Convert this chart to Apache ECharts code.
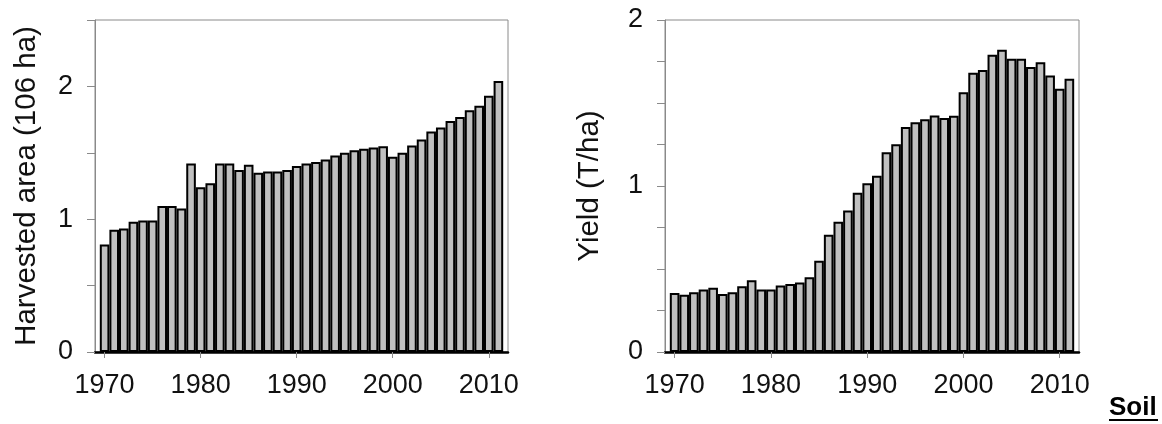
<!DOCTYPE html>
<html>
<head>
<meta charset="utf-8">
<script src="https://cdn.jsdelivr.net/npm/echarts@6/dist/echarts.min.js"></script>
<style>
html,body{margin:0;padding:0;background:#fff;}
#chart{width:1162px;height:424px;}
</style>
</head>
<body>
<div id="chart"></div>
<script>
const years = [1970,1971,1972,1973,1974,1975,1976,1977,1978,1979,
  1980,1981,1982,1983,1984,1985,1986,1987,1988,1989,
  1990,1991,1992,1993,1994,1995,1996,1997,1998,1999,
  2000,2001,2002,2003,2004,2005,2006,2007,2008,2009,
  2010,2011];
const harvestedArea = [0.81,0.92,0.93,0.98,0.99,0.99,1.10,1.10,1.08,1.42,
  1.24,1.27,1.42,1.42,1.37,1.41,1.35,1.36,1.36,1.37,
  1.40,1.42,1.43,1.45,1.48,1.50,1.52,1.53,1.54,1.55,
  1.47,1.50,1.555,1.60,1.66,1.69,1.74,1.77,1.82,1.855,
  1.93,2.04];
const yieldTha = [0.355,0.345,0.36,0.377,0.387,0.35,0.36,0.396,0.432,0.376,
  0.376,0.40,0.409,0.419,0.451,0.55,0.707,0.785,0.853,0.959,
  1.017,1.062,1.203,1.251,1.355,1.384,1.402,1.424,1.41,1.423,
  1.565,1.682,1.699,1.79,1.821,1.766,1.766,1.717,1.746,1.666,
  1.586,1.646];
const xTickYears = [1970,1980,1990,2000,2010];
const leftAxisTitle = 'Harvested area (106 ha)';
const rightAxisTitle = 'Yield (T/ha)';
const cornerText = 'Soil';

const FONT = 'Liberation Sans, Arial, sans-serif';
const GRAY = '#8a8a8a';

function pairs(vals){ return years.map((y,i)=>[y, vals[i]]); }

function xAxisCfg(gridIndex){
  return {
    type:'value', gridIndex, min:1969, max:2012,
    splitLine:{show:false},
    axisLine:{show:true, lineStyle:{color:'#000', width:2.5}},
    axisTick:{show:true, customValues:xTickYears, length:6, inside:false, lineStyle:{color:GRAY, width:1}},
    axisLabel:{show:true, customValues:xTickYears, margin:20, fontSize:27, fontFamily:FONT, color:'#111',
      formatter:v => String(v)}
  };
}
function yAxisCfg(gridIndex, max, interval, name, nameGap){
  return {
    type:'value', gridIndex, min:0, max, interval,
    name, nameLocation:'middle', nameGap,
    nameTextStyle:{fontSize:29.5, fontFamily:FONT, color:'#111'},
    splitLine:{show:false},
    axisLine:{show:true, lineStyle:{color:GRAY, width:1}},
    axisTick:{show:true, length:8, lineStyle:{color:GRAY, width:1}},
    axisLabel:{margin:22, fontSize:27, fontFamily:FONT, color:'#111',
      formatter:v => Number.isInteger(v) ? String(v) : ''}
  };
}
function barSeries(idx, vals, w){
  return {
    type:'bar', xAxisIndex:idx, yAxisIndex:idx,
    data:pairs(vals), barWidth:w, barGap:'0%',
    itemStyle:{color:'#c0c0c0', borderColor:'#000', borderWidth:2},
    silent:true, animation:false
  };
}

const chart = echarts.init(document.getElementById('chart'), null, {renderer:'canvas'});
chart.setOption({
  animation:false,
  backgroundColor:'#fff',
  grid:[
    {left:95, top:20, width:413, height:332, show:true, borderColor:GRAY, borderWidth:1, backgroundColor:'transparent'},
    {left:665, top:20, width:414, height:332, show:true, borderColor:GRAY, borderWidth:1, backgroundColor:'transparent'}
  ],
  xAxis:[xAxisCfg(0), xAxisCfg(1)],
  yAxis:[yAxisCfg(0, 2.5, 0.5, leftAxisTitle, 53), yAxisCfg(1, 2, 0.25, rightAxisTitle, 60)],
  series:[barSeries(0, harvestedArea, 413/43), barSeries(1, yieldTha, 414/43)],
  graphic:[
    {type:'text', left:1109, top:395, style:{text:cornerText, fontSize:26, fontWeight:'bold', fontFamily:FONT, fill:'#000'}},
    {type:'rect', left:1109, top:419, shape:{width:49, height:2}, style:{fill:'#000'}}
  ]
});
</script>
</body>
</html>
